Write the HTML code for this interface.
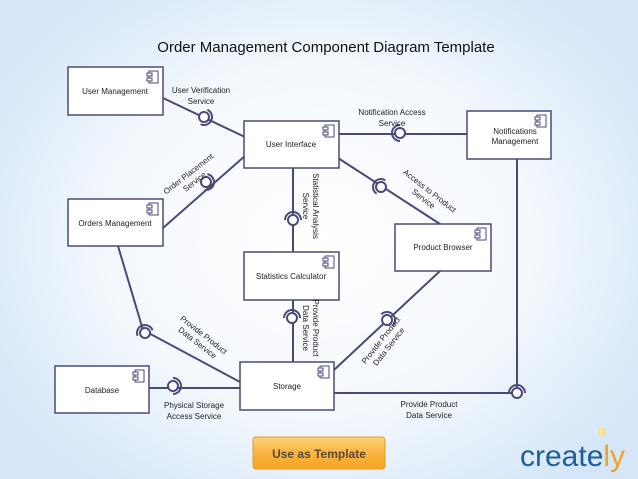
<!DOCTYPE html>
<html><head><meta charset="utf-8"><style>
html,body{margin:0;padding:0}
body{width:638px;height:479px;overflow:hidden;background:radial-gradient(ellipse 60% 65% at 50% 50%,#ffffff 0%,#f4f8fd 55%,#d4e6f8 100%);font-family:"Liberation Sans",sans-serif}
svg{position:absolute;left:0;top:0}
</style></head><body>
<svg id="s" width="638" height="479" viewBox="0 0 638 479" font-family="Liberation Sans, sans-serif">
<defs>
<linearGradient id="btn" x1="0" y1="0" x2="0" y2="1"><stop offset="0" stop-color="#fcd27a"/><stop offset="0.5" stop-color="#f8b440"/><stop offset="1" stop-color="#f6a623"/></linearGradient>
</defs>
<text x="326" y="52" font-size="15" text-anchor="middle" fill="#111">Order Management Component Diagram Template</text>
<g id="lines" stroke="#4a4a7a" stroke-width="2" fill="none">
<line x1="163" y1="98" x2="247" y2="138"/>
<line x1="163" y1="228" x2="246" y2="155"/>
<line x1="339" y1="134" x2="467" y2="134"/>
<line x1="338" y1="158" x2="440" y2="224"/>
<line x1="293" y1="168" x2="293" y2="252"/>
<line x1="293" y1="300" x2="293" y2="362"/>
<line x1="440" y1="271" x2="334" y2="370"/>
<polyline points="118,246 143,330 240,382"/>
<line x1="149" y1="388" x2="240" y2="388"/>
<polyline points="334,393 517,393 517,159"/>
</g>
<g id="balls" stroke="#4a4a7a" stroke-width="2" fill="#fff"></g>
<g stroke="#4a4a7a" stroke-width="1.5" fill="#fff">
<rect x="68" y="67" width="95" height="48"/>
<rect x="244" y="121" width="95" height="47"/>
<rect x="467" y="111" width="84" height="48"/>
<rect x="68" y="199" width="95" height="47"/>
<rect x="395" y="224" width="96" height="47"/>
<rect x="244" y="252" width="95" height="48"/>
<rect x="55" y="366" width="94" height="47"/>
<rect x="240" y="362" width="94" height="48"/>
</g>
<g id="icons" stroke="#4a4a7a" stroke-width="1" fill="#fff"></g>
<g font-size="8" fill="#222" text-anchor="middle">
<text x="115" y="94">User Management</text>
<text x="291" y="147">User Interface</text>
<text x="515" y="134">Notifications</text>
<text x="515" y="144">Management</text>
<text x="115" y="226">Orders Management</text>
<text x="443" y="250">Product Browser</text>
<text x="291" y="279">Statistics Calculator</text>
<text x="102" y="393">Database</text>
<text x="287" y="389">Storage</text>
<text x="201" y="93">User Verification</text>
<text x="201" y="104">Service</text>
<text x="392" y="115">Notification Access</text>
<text x="392" y="126">Service</text>
<text x="194" y="408">Physical Storage</text>
<text x="194" y="419">Access Service</text>
<text x="429" y="407">Provide Product</text>
<text x="429" y="418">Data Service</text>
<g transform="translate(190,176) rotate(-38)"><text x="0" y="0">Order Placement</text><text x="0" y="10">Service</text></g>
<g transform="translate(428,193) rotate(38)"><text x="0" y="0">Access to Product</text><text x="0" y="10">Service</text></g>
<g transform="translate(313,206) rotate(90)"><text x="0" y="0">Statistical Analysis</text><text x="0" y="10">Service</text></g>
<g transform="translate(313,328) rotate(90)"><text x="0" y="0">Provide Product</text><text x="0" y="10">Data Service</text></g>
<g transform="translate(202,337) rotate(38)"><text x="0" y="0">Provide Product</text><text x="0" y="10">Data Service</text></g>
<g transform="translate(383,342) rotate(-52)"><text x="0" y="0">Provide Product</text><text x="0" y="10">Data Service</text></g>
</g>
<rect x="253" y="437" width="132" height="32" rx="3" fill="url(#btn)" stroke="#e09a2a"/>
<text x="319" y="458" font-size="12" font-weight="bold" fill="#5a4a3a" text-anchor="middle">Use as Template</text>
<text x="520" y="466" font-size="30" fill="#1f5f99" font-family="Liberation Sans, sans-serif">create<tspan fill="#f2a51c">ly</tspan></text>
<circle cx="602" cy="432" r="4" fill="#fbe28a"/>
</svg>
<script>
var NS="http://www.w3.org/2000/svg";
function el(p,n,a){var e=document.createElementNS(NS,n);for(var k in a)e.setAttribute(k,a[k]);p.appendChild(e);return e;}
var B=document.getElementById("balls");
var balls=[[204,117,205],[206,182,190],[400,133,0],[381,187,33],[293,220,90],[292,318,90],[387,320,135],[145,333,70],[173,386,180],[517,393,90]];
balls.forEach(function(b){
 var x=b[0],y=b[1],a=b[2]*Math.PI/180,r=8;
 var a1=a-Math.PI/2,a2=a+Math.PI/2;
 var sx=x-Math.cos(a1)*r,sy=y-Math.sin(a1)*r,ex=x-Math.cos(a2)*r,ey=y-Math.sin(a2)*r;
 el(B,"path",{d:"M"+sx+" "+sy+" A"+r+" "+r+" 0 0 1 "+ex+" "+ey,fill:"none"});
 el(B,"circle",{cx:x,cy:y,r:5});
});
var I=document.getElementById("icons");
[[163,67],[339,121],[551,111],[163,199],[491,224],[339,252],[149,366],[334,362]].forEach(function(p){
 var x=p[0]-16,y=p[1]+4;
 el(I,"rect",{x:x+2,y:y,width:9,height:12});
 el(I,"rect",{x:x,y:y+2,width:5,height:3});
 el(I,"rect",{x:x,y:y+7,width:5,height:3});
});
</script>
</body></html>
